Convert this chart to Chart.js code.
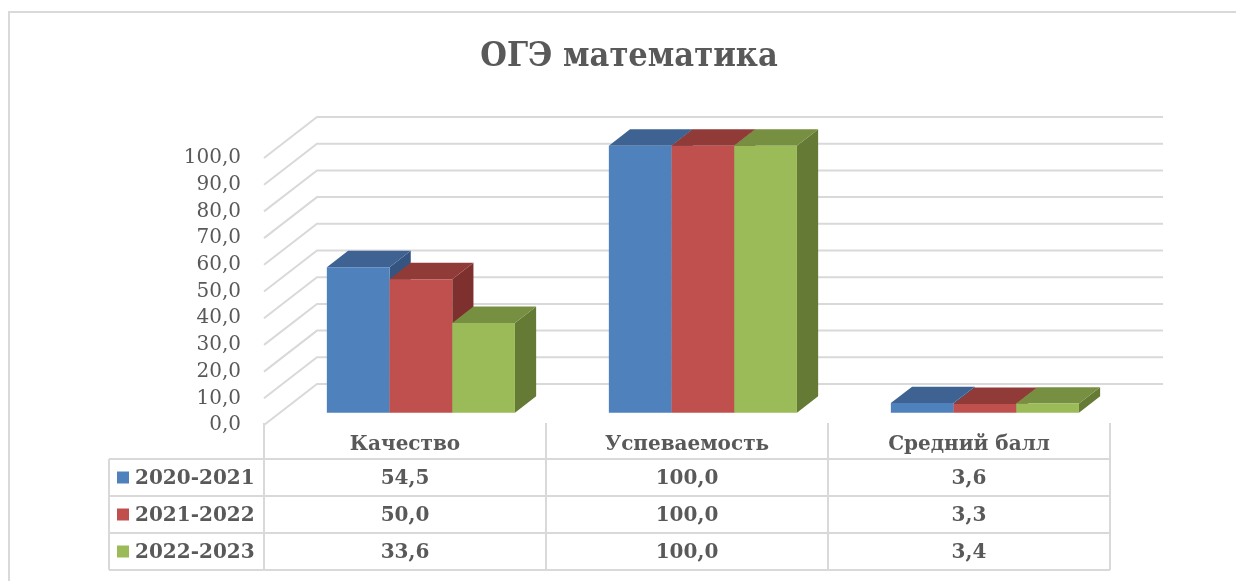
<!DOCTYPE html>
<html>
<head>
<meta charset="utf-8">
<script src="https://cdn.jsdelivr.net/npm/chart.js@4.4.0/dist/chart.umd.min.js"></script>
<style>
  html, body { margin: 0; padding: 0; background: #fff; }
</style>
</head>
<body>
<canvas id="myChart" width="1236" height="581"></canvas>
<script>
const chartTitle = 'ОГЭ математика';
const categories = ['Качество', 'Успеваемость', 'Средний балл'];
const seriesLabels = ['2020-2021', '2021-2022', '2022-2023'];
const values2021 = [54.5, 100.0, 3.6];
const values2022 = [50.0, 100.0, 3.3];
const values2023 = [33.6, 100.0, 3.4];

const frontColors = ['#4F81BD', '#C0504D', '#9BBB59'];
const topColors = ['#3E6392', '#913B39', '#778F40'];
const sideColors = ['#355580', '#7D302E', '#657A34'];

const gridColor = '#d9d9d9';
const textColor = '#595959';
const DEPTH = { x: 53, y: -41 };   // full floor depth in pixels
const fmt = v => v.toFixed(1).replace('.', ',');

function poly(ctx, pts, color) {
    ctx.fillStyle = color;
    ctx.beginPath();
    ctx.moveTo(pts[0][0], pts[0][1]);
    for (let i = 1; i < pts.length; i++) ctx.lineTo(pts[i][0], pts[i][1]);
    ctx.closePath();
    ctx.fill();
}

const box3d = {
    id: 'box3d',
    beforeDraw(chart) {
        const ctx = chart.ctx;
        const { left, right } = chart.chartArea;
        const yScale = chart.scales.y;
        ctx.save();
        ctx.strokeStyle = gridColor;
        ctx.lineWidth = 2;
        // outer frame
        ctx.beginPath();
        ctx.moveTo(9, chart.height);
        ctx.lineTo(9, 12);
        ctx.lineTo(chart.width, 12);
        ctx.stroke();
        // title
        ctx.fillStyle = textColor;
        ctx.font = 'bold 34px "DejaVu Serif Condensed", "DejaVu Serif"';
        ctx.textAlign = 'center';
        ctx.textBaseline = 'middle';
        ctx.fillText(chartTitle, 629, 57);
        // side wall + back wall grid lines
        yScale.ticks.forEach(t => {
            const py = yScale.getPixelForValue(t.value);
            ctx.beginPath();
            ctx.moveTo(left, py);
            ctx.lineTo(left + DEPTH.x, py + DEPTH.y);
            ctx.lineTo(right + DEPTH.x, py + DEPTH.y);
            ctx.stroke();
        });
        ctx.restore();
    },
    beforeDatasetsDraw(chart) {
        const ctx = chart.ctx;
        const fx = DEPTH.x * 0.3, fy = DEPTH.y * 0.3;
        const dx = DEPTH.x * 0.4, dy = DEPTH.y * 0.4;
        ctx.save();
        for (let i = 0; i < categories.length; i++) {
            chart.data.datasets.forEach((ds, di) => {
                const bar = chart.getDatasetMeta(di).data[i];
                const x0 = bar.x - bar.width / 2 + fx;
                const x1 = bar.x + bar.width / 2 + fx;
                const yt = bar.y + fy;
                const yb = bar.base + fy;
                poly(ctx, [[x1, yt], [x1 + dx, yt + dy], [x1 + dx, yb + dy], [x1, yb]], sideColors[di]);
                poly(ctx, [[x0, yt], [x0 + dx, yt + dy], [x1 + dx, yt + dy], [x1, yt]], topColors[di]);
                poly(ctx, [[x0, yt], [x1, yt], [x1, yb], [x0, yb]], frontColors[di]);
            });
        }
        ctx.restore();
        return false;
    },
    afterDraw(chart) {
        const ctx = chart.ctx;
        const xScale = chart.scales.x;
        const { left, right } = chart.chartArea;
        const catW = (right - left) / categories.length;
        const tableLeft = 109, headTop = 423;
        const rowLines = [459, 496, 533, 570];
        ctx.save();
        ctx.strokeStyle = gridColor;
        ctx.lineWidth = 2;
        ctx.beginPath();
        rowLines.forEach(y => { ctx.moveTo(tableLeft, y); ctx.lineTo(right, y); });
        ctx.moveTo(tableLeft, rowLines[0]);
        ctx.lineTo(tableLeft, rowLines[3]);
        for (let i = 0; i <= categories.length; i++) {
            const x = left + i * catW;
            ctx.moveTo(x, headTop);
            ctx.lineTo(x, rowLines[3]);
        }
        ctx.stroke();

        ctx.fillStyle = textColor;
        ctx.font = 'bold 20px "DejaVu Serif"';
        ctx.textAlign = 'center';
        ctx.textBaseline = 'middle';
        categories.forEach((c, i) => {
            ctx.fillText(c, xScale.getPixelForValue(i), 445);
        });
        chart.data.datasets.forEach((ds, di) => {
            const cy = (rowLines[di] + rowLines[di + 1]) / 2;
            ctx.fillStyle = frontColors[di];
            ctx.fillRect(117, cy - 6, 12, 12);
            ctx.fillStyle = textColor;
            ctx.textAlign = 'left';
            ctx.fillText(ds.label, 135, cy + 1);
            ctx.textAlign = 'center';
            ds.data.forEach((v, i) => {
                ctx.fillText(fmt(v), xScale.getPixelForValue(i), cy + 1);
            });
        });
        ctx.restore();
    }
};

new Chart(document.getElementById('myChart'), {
    type: 'bar',
    data: {
        labels: categories,
        datasets: [
            { label: seriesLabels[0], data: values2021, backgroundColor: frontColors[0] },
            { label: seriesLabels[1], data: values2022, backgroundColor: frontColors[1] },
            { label: seriesLabels[2], data: values2023, backgroundColor: frontColors[2] }
        ]
    },
    options: {
        responsive: false,
        animation: false,
        layout: { padding: { left: 0, top: 158, right: 126, bottom: 156 } },
        datasets: { bar: { categoryPercentage: 0.667, barPercentage: 1 } },
        scales: {
            x: { display: false },
            y: {
                min: 0,
                max: 100,
                ticks: {
                    stepSize: 10,
                    autoSkip: false,
                    padding: 23,
                    color: textColor,
                    font: { family: 'DejaVu Serif', size: 20 },
                    callback: v => fmt(v)
                },
                grid: { display: false, drawTicks: false },
                border: { display: false },
                afterFit: scale => { scale.width = 264; }
            }
        },
        plugins: {
            legend: { display: false },
            tooltip: { enabled: false },
            title: { display: false }
        }
    },
    plugins: [box3d]
});
</script>
</body>
</html>
